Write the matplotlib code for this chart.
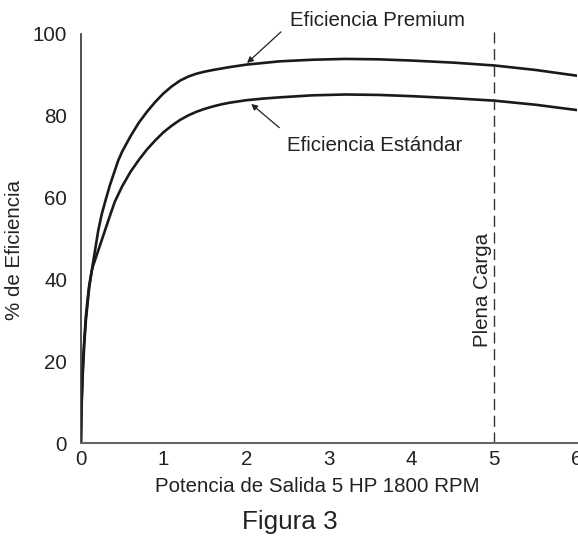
import matplotlib
matplotlib.use("Agg")
import matplotlib.pyplot as plt

plt.rcParams['font.family'] = ['Liberation Sans', 'DejaVu Sans']

# Output power (HP) and efficiency (%) for a 5 HP, 1800 RPM motor
premium_hp = [0, 0.005, 0.01, 0.02, 0.03, 0.04, 0.06, 0.08, 0.10, 0.13, 0.15,
              0.17, 0.21, 0.25, 0.30, 0.35, 0.40, 0.45, 0.50, 0.60, 0.70,
              0.80, 0.90, 1.0, 1.1, 1.2, 1.3, 1.4, 1.5, 1.6, 1.8, 2.0, 2.2,
              2.4, 2.8, 3.2, 3.6, 4.0, 4.5, 5.0, 5.5, 6.0]
premium_eff = [0, 6, 10, 16, 20, 24, 30, 34, 38, 42, 44.5,
               47, 52, 55.8, 59.5, 63, 66, 69, 71.3, 75, 78.3,
               81, 83.4, 85.5, 87.2, 88.6, 89.6, 90.3, 90.8, 91.2, 91.9, 92.5, 92.9,
               93.3, 93.7, 93.9, 93.8, 93.5, 93.0, 92.3, 91.2, 89.8]

standard_hp = [0, 0.005, 0.01, 0.02, 0.03, 0.04, 0.06, 0.08, 0.10, 0.13, 0.15,
               0.20, 0.25, 0.30, 0.35, 0.41, 0.50, 0.60, 0.70, 0.80, 0.90,
               1.0, 1.1, 1.2, 1.3, 1.4, 1.5, 1.6, 1.7, 1.8, 2.0, 2.2, 2.4,
               2.8, 3.2, 3.6, 4.0, 4.5, 5.0, 5.5, 6.0]
standard_eff = [0, 6.5, 11, 17, 21.5, 25, 31, 35, 38.5, 42, 43.5,
                46.5, 49.5, 52.5, 55.5, 59, 62.8, 66.3, 69.2, 71.8, 74,
                76, 77.6, 79, 80.1, 81, 81.7, 82.3, 82.8, 83.2, 83.8, 84.2, 84.5,
                85.0, 85.2, 85.1, 84.8, 84.3, 83.7, 82.7, 81.4]

full_load_hp = 5
x_ticks = [0, 1, 2, 3, 4, 5, 6]
y_ticks = [0, 20, 40, 60, 80, 100]

FS = 14.8
TXT = '#222222'

fig = plt.figure(figsize=(5.78, 5.43), dpi=100)
ax = fig.add_axes([0.140, 0.184, 0.858, 0.761])

ax.plot(premium_hp, premium_eff, color='#1a1a1a', lw=1.9,
        solid_capstyle='round', solid_joinstyle='round')
ax.plot(standard_hp, standard_eff, color='#1a1a1a', lw=1.9,
        solid_capstyle='round', solid_joinstyle='round')

# Full-load marker
ax.axvline(full_load_hp, ymin=0, ymax=100.7 / 101, color='#333333', lw=1.0,
           dashes=(8, 4))
ax.text(full_load_hp - 0.14, 37.5, 'Plena Carga', rotation=90, ha='center',
        va='center', fontsize=FS, color=TXT)

# Curve labels with pointer arrows
arrow_style = dict(arrowstyle='-|>', color=TXT, lw=0.9,
                   mutation_scale=9, shrinkA=0, shrinkB=0)
ax.annotate('', xy=(2.01, 92.9), xytext=(2.42, 100.5),
            arrowprops=arrow_style, annotation_clip=False)
ax.annotate('', xy=(2.06, 82.9), xytext=(2.40, 77.1),
            arrowprops=arrow_style, annotation_clip=False)
ax.text(2.53, 103.2, 'Eficiencia Premium', ha='left', va='center',
        fontsize=FS, color=TXT, clip_on=False)
ax.text(2.49, 72.7, 'Eficiencia Estándar', ha='left', va='center',
        fontsize=FS, color=TXT)

ax.set_xlim(0, 6)
ax.set_ylim(0, 101)
ax.set_xticks(x_ticks)
ax.set_yticks(y_ticks)
ax.tick_params(length=0, labelsize=FS, labelcolor=TXT)
ax.tick_params(axis='x', pad=5)
ax.tick_params(axis='y', pad=10)

for side in ('top', 'right'):
    ax.spines[side].set_visible(False)
ax.spines['left'].set_bounds(0, 100)
ax.spines['left'].set_color('#333333')
ax.spines['left'].set_linewidth(1.2)
ax.spines['bottom'].set_color('#666666')
ax.spines['bottom'].set_linewidth(1.5)

fig.text(15 / 578, 1 - 250 / 543, '% de Eficiencia', rotation=90,
         ha='center', va='center', fontsize=FS, color=TXT)
fig.text(317 / 578, 1 - 487 / 543, 'Potencia de Salida 5 HP 1800 RPM',
         ha='center', va='center', fontsize=FS, color=TXT)
fig.text(290 / 578, 1 - 522 / 543, 'Figura 3', ha='center', va='center',
         fontsize=18.8, color=TXT)

fig.savefig('out.png', dpi=100)
